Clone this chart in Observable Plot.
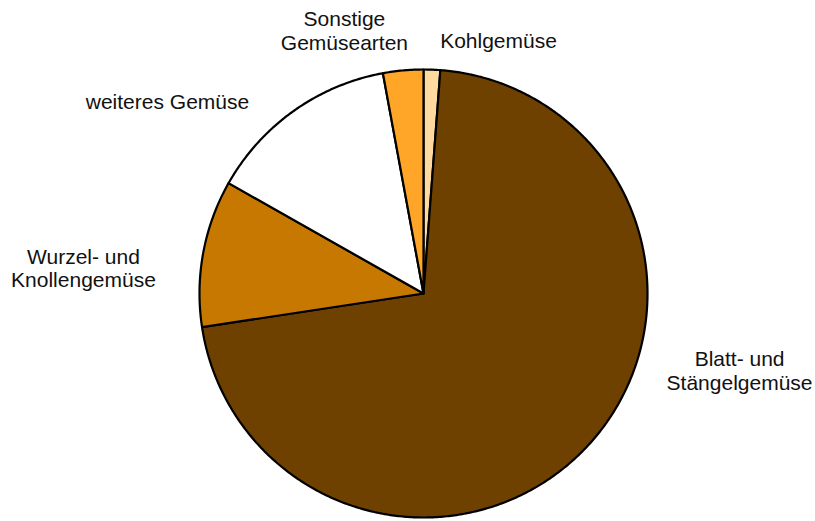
<!DOCTYPE html>
<html>
<head>
<meta charset="utf-8">
<script src="https://cdn.jsdelivr.net/npm/d3@7"></script>
<script src="https://cdn.jsdelivr.net/npm/@observablehq/plot@0.6"></script>
<style>
  html, body { margin: 0; padding: 0; background: #fff; }
  #chart svg { display: block; }
</style>
</head>
<body>
<div id="chart"></div>
<script>
// Data (shares in %, clockwise from 12 o'clock)
const categories = ["Kohlgemüse", "Blatt- und Stängelgemüse", "Wurzel- und Knollengemüse", "weiteres Gemüse", "Sonstige Gemüsearten"];
const values = [1.2, 71.4, 10.6, 13.9, 2.9];
const labels = ["Kohlgemüse", "Blatt- und\nStängelgemüse", "Wurzel- und\nKnollengemüse", "weiteres Gemüse", "Sonstige\nGemüsearten"];

// Styling / layout (kept separate from data)
const colors = ["#FFDA9E", "#6F4100", "#C77800", "#FFFFFF", "#FFA628"];
// label anchor points in the pie's unit coordinates (radius = 1)
const labelPos = [[0.335, 1.129], [1.411, -0.344], [-1.518, 0.114], [-1.143, 0.859], [-0.353, 1.174]];

const total = d3.sum(values);
let acc = 0;
const pts = [];
categories.forEach((name, i) => {
  const a0 = acc / total * 2 * Math.PI;
  acc += values[i];
  const a1 = acc / total * 2 * Math.PI;
  pts.push({name, x: 0, y: 0});
  const n = Math.max(2, Math.ceil((a1 - a0) / (Math.PI / 360)));
  for (let k = 0; k <= n; k++) {
    const a = a0 + (a1 - a0) * k / n;
    pts.push({name, x: Math.sin(a), y: Math.cos(a)});
  }
});
const labelData = categories.map((name, i) => ({name, text: labels[i], x: labelPos[i][0], y: labelPos[i][1]}));

const chart = Plot.plot({
  width: 815,
  height: 521,
  marginLeft: 199,
  marginRight: 168,
  marginTop: 69,
  marginBottom: 4,
  x: {domain: [-1, 1], axis: null},
  y: {domain: [-1, 1], axis: null},
  color: {domain: categories, range: colors},
  style: {fontFamily: "'Liberation Sans', Arial, sans-serif", background: "#fff"},
  marks: [
    Plot.line(pts, {x: "x", y: "y", z: "name", fill: "name", stroke: "#000", strokeWidth: 2.2, strokeLinejoin: "round", curve: "linear-closed"}),
    Plot.text(labelData, {x: "x", y: "y", text: "text", fontSize: 21, lineHeight: 1.12, textAnchor: "middle", lineAnchor: "middle", fill: "#111"})
  ]
});
document.getElementById("chart").appendChild(chart);
</script>
</body>
</html>
